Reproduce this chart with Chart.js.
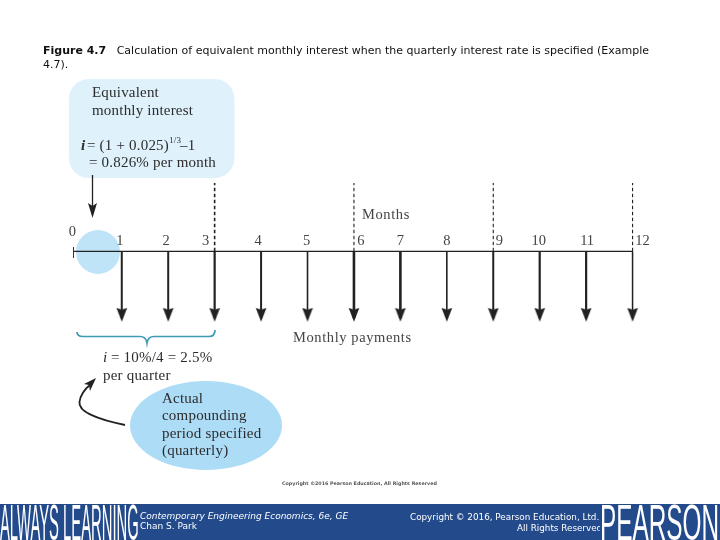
<!DOCTYPE html>
<html><head><meta charset="utf-8">
<script src="https://cdn.jsdelivr.net/npm/chart.js@4"></script>
<style>
html,body{margin:0;padding:0;background:#fff;width:720px;height:540px;overflow:hidden}
#c{position:absolute;left:0;top:0;width:720px;height:540px}
.t{position:absolute;white-space:nowrap;font-family:"DejaVu Sans",sans-serif}
#title{left:43px;top:44px;font-size:11px;line-height:14px;color:#111;white-space:pre}
#bar{position:absolute;left:0;top:504px;width:720px;height:36px;background:#234b8c}
#clip{position:absolute;left:380px;top:504px;width:220px;height:36px;overflow:hidden}
.big{position:absolute;color:#fff;font-family:"Liberation Sans",sans-serif;transform-origin:0 0;white-space:nowrap}
</style></head><body>
<canvas id="c" width="720" height="540"></canvas>
<div class="t" id="title"><b>Figure 4.7</b>   Calculation of equivalent monthly interest when the quarterly interest rate is specified (Example
4.7).</div>
<div id="bar"></div>
<div class="big" id="al" style="left:0;top:498px;font-size:50px;line-height:50px;transform:scaleX(0.296)">ALWAYS LEARNING</div>
<div class="t" style="left:140px;top:510px;font-size:9px;line-height:12px;color:#fff;font-style:italic">Contemporary Engineering Economics, 6e, GE</div>
<div class="t" style="left:140px;top:520px;font-size:9px;line-height:12px;color:#fff">Chan S. Park</div>
<div id="clip">
<div class="t" style="left:30px;top:6.5px;font-size:8.8px;line-height:12px;color:#fff">Copyright © 2016, Pearson Education, Ltd.</div>
<div class="t" style="left:137px;top:18px;font-size:8.8px;line-height:12px;color:#fff">All Rights Reserved</div>
</div>
<div class="big" id="pe" style="left:600px;top:498px;font-size:50px;line-height:50px;transform:scaleX(0.487)">PEARSON</div>
<script>
// ---- data ----
const months = [1,2,3,4,5,6,7,8,9,10,11,12];
const payments = [-1,-1,-1,-1,-1,-1,-1,-1,-1,-1,-1,-1];
const quarterEnds = [3,6,9,12];
const quarterHeight = [0.97,0.97,0.97,0.97];
const tickLabels = ["0","1","2","3","4","5","6","7","8","9","10","11","12"];
const axisStart = 0;
const axisEnd = 12;
const axisLabel = "Months";
const paymentLabel = "Monthly payments";
const titleBubble = ["Equivalent","monthly interest"];
const formula2 = "= 0.826% per month";
const quarterLines = ["i = 10%/4 = 2.5%","per quarter"];
const actualLines = ["Actual","compounding","period specified","(quarterly)"];
const smallCopyright = "Copyright ©2016 Pearson Education, All Rights Reserved";

// ---- styling ----
const ink = "#222";
const shaftW = [2,2,2.2,2,1.6,2.6,2.6,1.6,2,2.2,2.2,1.5];
const labelDx = [-3,-2,-2,-9,-3,-1,7,0,0,6,-1,1,10];
const serif = '"Liberation Serif",serif';

// arrowhead whose tip sits at the centre of the image, so the point lands on the value
const head = document.createElement('canvas');
head.width = 12; head.height = 28;
(function(){
  const g = head.getContext('2d');
  g.fillStyle = ink; g.beginPath();
  g.moveTo(0.6,0); g.lineTo(6,2); g.lineTo(11.4,0); g.lineTo(6,14); g.closePath(); g.fill();
})();

const datasets = [];
datasets.push({data:[{x:axisStart-0.03,y:0},{x:axisEnd,y:0}],borderColor:ink,borderWidth:1.3,pointRadius:0,showLine:true,order:3});
months.forEach((m,i)=>{
  datasets.push({data:[{x:m,y:0},{x:m,y:payments[i]*0.95}],borderColor:ink,borderWidth:shaftW[i],showLine:true,pointRadius:0,order:2});
  datasets.push({data:[{x:m,y:payments[i]}],pointRadius:6,pointStyle:head,showLine:false,order:1});
});
quarterEnds.forEach((m,i)=>{
  datasets.push({data:[{x:m,y:0},{x:m,y:quarterHeight[i]}],borderColor:ink,borderWidth:i==0?1.6:1.1,borderDash:[3.5,2.5],showLine:true,pointRadius:0,order:2});
});

const decor = {
  id:'decor',
  beforeDatasetsDraw(ch){
    const c=ch.ctx; c.save();
    c.fillStyle="#dff1fb"; c.beginPath(); c.roundRect(69,79,165.5,99,20); c.fill();
    c.fillStyle="#bfe4f8"; c.beginPath(); c.arc(98,252,22,0,7); c.fill();
    c.fillStyle="#addcf7"; c.beginPath(); c.ellipse(206,425.5,76,44.5,0,0,7); c.fill();
    c.restore();
  },
  afterDatasetsDraw(ch){
    const c=ch.ctx, X=ch.scales.x; c.save();
    c.strokeStyle="#333"; c.lineWidth=1; c.beginPath(); c.moveTo(73.5,247); c.lineTo(73.5,258); c.stroke();
    c.strokeStyle=ink; c.lineWidth=1.3; c.beginPath(); c.moveTo(92.5,175); c.lineTo(92.5,208); c.stroke();
    c.fillStyle=ink; c.beginPath(); c.moveTo(88,203); c.lineTo(92.5,206); c.lineTo(97,203); c.lineTo(92.5,218); c.closePath(); c.fill();
    c.strokeStyle="#3f9ab5"; c.lineWidth=1.7; c.beginPath();
    c.moveTo(77,332); c.quadraticCurveTo(77,336.5,83,336.5); c.lineTo(140,336.5); c.quadraticCurveTo(146,336.5,147,343);
    c.quadraticCurveTo(148,336.5,154,336.5); c.lineTo(209,336.5); c.quadraticCurveTo(215,336.5,215,330);
    c.stroke();
    c.strokeStyle=ink; c.lineWidth=1.8; c.beginPath(); c.moveTo(125,425); c.bezierCurveTo(100,420,78,412,79.5,402); c.bezierCurveTo(80.5,394,86,388,91,384); c.stroke();
    c.fillStyle=ink; c.beginPath(); c.moveTo(96,378); c.lineTo(90,391); c.lineTo(89,385); c.lineTo(84,384); c.closePath(); c.fill();
    c.fillStyle="#444"; c.textBaseline="middle"; c.textAlign="center"; c.font='14.5px '+serif;
    tickLabels.forEach((t,i)=>{
      const px=X.getPixelForValue(i)+labelDx[i];
      c.fillText(t,px,i===0?232:241);
    });
    c.textAlign="left"; c.font='14.5px '+serif; c.letterSpacing='0.6px';
    c.fillText(axisLabel,362,215);
    c.fillText(paymentLabel,293,338);
    c.letterSpacing='0.2px'; c.fillStyle="#2c2c2c";
    c.font='15px '+serif;
    titleBubble.forEach((t,i)=>c.fillText(t,92,93+i*18));
    c.font='italic bold 15px '+serif; c.fillText("i",81,146);
    c.font='15px '+serif; c.fillText("= (1 + 0.025)",87,146);
    const w=c.measureText("= (1 + 0.025)").width;
    c.font='9px '+serif; c.fillText("1/3",87+w,141);
    c.font='15px '+serif; c.fillText("–1",87+w+11,146);
    c.fillText(formula2,89,163);
    c.font='italic 15px '+serif; c.fillText("i",103,358);
    c.font='15px '+serif; c.fillText(quarterLines[0].slice(1),107,358);
    c.fillText(quarterLines[1],103,376);
    actualLines.forEach((t,i)=>c.fillText(t,162,399+i*17.4));
    c.letterSpacing='0px';
    c.fillStyle="#555"; c.font='bold 4.8px "DejaVu Sans",sans-serif'; c.fillText(smallCopyright,282,484);
    c.restore();
  }
};

new Chart(document.getElementById('c'),{
  type:'scatter',
  data:{datasets},
  options:{
    responsive:false,animation:false,
    // padding places the round axis limits so that one month = 46.44px and one payment = 71px
    layout:{padding:{left:28.9,right:41,top:40,bottom:3}},
    plugins:{legend:{display:false},tooltip:{enabled:false}},
    elements:{line:{tension:0}},
    scales:{
      x:{type:'linear',display:false,min:-1,max:13},
      y:{type:'linear',display:false,min:-4,max:3}
    }
  },
  plugins:[decor]
});
</script>
</body></html>
